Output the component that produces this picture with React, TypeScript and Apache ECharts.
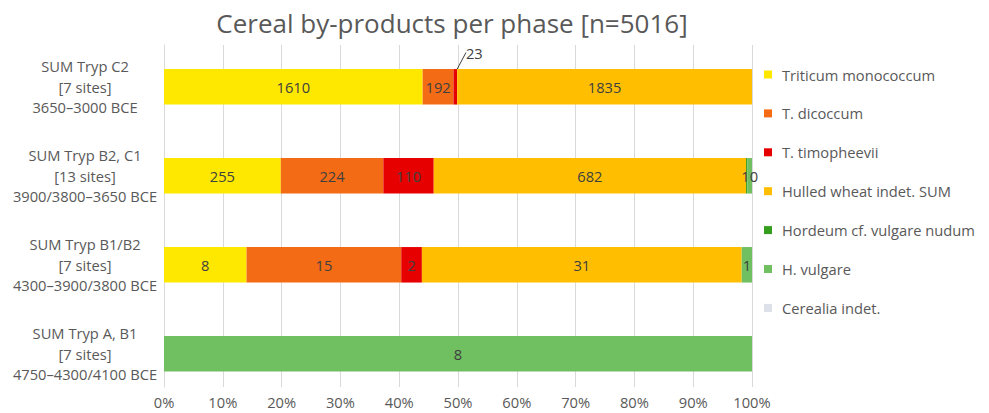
import React, { useEffect, useRef } from "react";
import * as echarts from "echarts";

const categories = [
  "SUM Tryp C2\n[7 sites]\n3650–3000 BCE",
  "SUM Tryp B2, C1\n[13 sites]\n3900/3800–3650 BCE",
  "SUM Tryp B1/B2\n[7 sites]\n4300–3900/3800 BCE",
  "SUM Tryp A, B1\n[7 sites]\n4750–4300/4100 BCE",
];

const seriesNames = [
  "Triticum monococcum",
  "T. dicoccum",
  "T. timopheevii",
  "Hulled wheat indet. SUM",
  "Hordeum cf. vulgare nudum",
  "H. vulgare",
  "Cerealia indet.",
];

const monococcum = [1610, 255, 8, 0];
const dicoccum = [192, 224, 15, 0];
const timopheevii = [23, 110, 2, 0];
const hulledWheat = [1835, 682, 31, 0];
const hordeumNudum = [0, 3, 0, 0];
const hVulgare = [0, 10, 1, 8];
const cerealia = [0, 0, 0, 0];

const xTicks = [0, 10, 20, 30, 40, 50, 60, 70, 80, 90, 100];

const colors = ["#FFE800", "#F46B16", "#E60000", "#FFBF00", "#359E1C", "#70BF60", "#DCE1EA"];

const FONT = "'Open Sans', 'Noto Sans', sans-serif";
const FS = 14.7;

export default function App() {
  const ref = useRef<HTMLDivElement>(null);

  useEffect(() => {
    if (!ref.current) return;
    const chart = echarts.init(ref.current, undefined, { renderer: "svg" });
    const all = [monococcum, dicoccum, timopheevii, hulledWheat, hordeumNudum, hVulgare, cerealia];
    const totals = categories.map((_, j) => all.reduce((s, arr) => s + arr[j], 0));

    const series = all.map((arr, i) => ({
      name: seriesNames[i],
      type: "bar",
      stack: "total",
      xAxisIndex: 1,
      yAxisIndex: 1,
      barWidth: 35.5,
      itemStyle: { color: colors[i] },
      label: {
        show: true,
        position: "inside",
        color: "#404040",
        fontSize: FS,
        fontFamily: FONT,
        formatter: (p: any) => String(arr[p.dataIndex]),
      },
      labelLayout:
        i === 2
          ? (p: any) => (p.dataIndex === 0 ? { dx: 19 } : {})
          : undefined,
      data: arr.map((v, j) => {
        const item: any = { value: totals[j] ? (v / totals[j]) * 100 : 0 };
        if (v === 0 || (i === 4 && v < 5)) item.label = { show: false };
        if (i === 2 && j === 0) {
          item.label = { show: true, position: "top", distance: 9 };
          item.labelLine = { show: true, lineStyle: { color: "#404040", width: 1 } };
        }
        return item;
      }),
    }));

    chart.setOption({
      animation: false,
      textStyle: { fontFamily: FONT },
      graphic: [
        {
          type: "text",
          x: 452,
          y: 23,
          style: {
            text: "Cereal by-products per phase [n=5016]",
            fill: "#595959",
            font: `26px ${FONT}`,
            textAlign: "center",
            textVerticalAlign: "middle",
          },
        },
      ],
      legend: {
        orient: "vertical",
        left: 759,
        top: 62,
        itemWidth: 8,
        itemHeight: 8,
        itemGap: 23.9,
        icon: "rect",
        data: seriesNames,
        textStyle: {
          color: "#595959",
          fontSize: FS,
          lineHeight: 14.3,
          fontFamily: FONT,
          padding: [0, 0, 0, 5],
        },
      },
      grid: [
        { left: 164, width: 588, top: 45, height: 342 },
        { left: 164, width: 588, top: 42.3, height: 356 },
      ],
      xAxis: [
        {
          gridIndex: 0,
          type: "value",
          min: 0,
          max: 100,
          interval: 10,
          axisLine: { show: false },
          axisTick: { show: false },
          splitLine: { show: true, lineStyle: { color: "#D9D9D9", width: 1 } },
          axisLabel: {
            margin: 7,
            color: "#595959",
            fontSize: FS,
            fontFamily: FONT,
            formatter: (v: number) => (xTicks.includes(v) ? `${v}%` : ""),
          },
        },
        {
          gridIndex: 1,
          type: "value",
          min: 0,
          max: 100,
          show: false,
        },
      ],
      yAxis: [
        {
          gridIndex: 0,
          type: "value",
          show: true,
          axisLine: { show: true, lineStyle: { color: "#D9D9D9" } },
          axisTick: { show: false },
          axisLabel: { show: false },
          splitLine: { show: false },
        },
        {
          gridIndex: 1,
          type: "category",
          inverse: true,
          data: categories,
          axisLine: { show: false },
          axisTick: { show: false },
          splitLine: { show: false },
          axisLabel: {
            margin: 79,
            align: "center",
            color: "#595959",
            fontSize: FS,
            lineHeight: 20.5,
            fontFamily: FONT,
          },
        },
      ],
      series,
    });

    return () => chart.dispose();
  }, []);

  return (
    <div
      ref={ref}
      style={{ position: "fixed", left: 0, top: 0, width: 989, height: 413, background: "#fff" }}
    />
  );
}
